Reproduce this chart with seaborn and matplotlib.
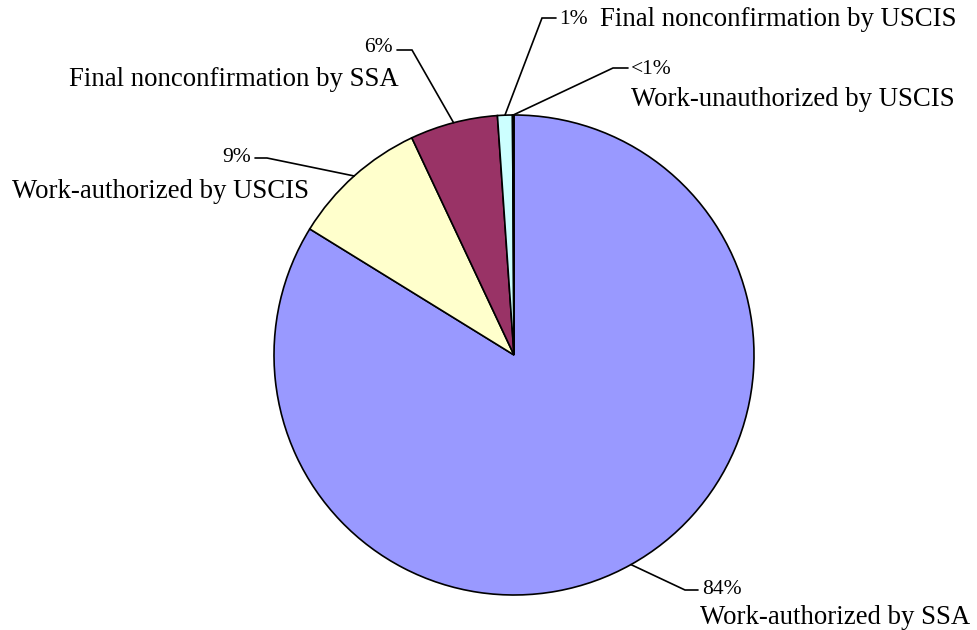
import numpy as np
import seaborn as sns
import matplotlib
matplotlib.use('Agg')
import matplotlib.pyplot as plt

# data (clockwise from 12 o'clock)
categories = ['Work-authorized by SSA', 'Work-authorized by USCIS',
              'Final nonconfirmation by SSA', 'Final nonconfirmation by USCIS',
              'Work-unauthorized by USCIS']
shares = [83.8, 9.2, 5.9, 1.0, 0.1]
pct_labels = ['84%', '9%', '6%', '1%', '<1%']
colors = ['#9999FF', '#FFFFCC', '#993366', '#CCFFFF', '#660066']

sns.set_theme(style='white')
plt.rcParams['font.family'] = ['Liberation Serif', 'DejaVu Serif']
plt.rcParams['text.color'] = 'black'

W, H = 977, 630
fig = plt.figure(figsize=(W / 100, H / 100), dpi=100)
ax = fig.add_axes([0, 0, 1, 1])
ax.set_aspect('equal')
ax.axis('off')

# pie placed in pixel space (y flipped so we can read positions off the image)
cx, cy, r = 514, 355, 240
wedges, _ = ax.pie(shares, colors=colors, startangle=90, counterclock=False,
                   center=(cx, H - cy), radius=r,
                   wedgeprops=dict(edgecolor='black', linewidth=1.2))
ax.set_xlim(0, W)
ax.set_ylim(0, H)

# leader line elbow/end, pct text pos + align, name text pos + align (image coords)
leaders = [
    ((685, 590), (698, 590), (702, 590, 'left'), (700, 617, 'left')),
    ((267, 158), (255, 158), (251, 158, 'right'), (161, 191, 'center')),
    ((412, 50), (397, 50), (393, 48, 'right'), (234, 80, 'center')),
    ((542, 18), (556, 18), (559, 19, 'left'), (600, 20, 'left')),
    ((613, 68), (628, 68), (631, 69, 'left'), (793, 100, 'center')),
]

for w, pct, name, (elbow, end, ptxt, ntxt) in zip(wedges, pct_labels, categories, leaders):
    mid = np.deg2rad((w.theta1 + w.theta2) / 2)
    sx = cx + r * np.cos(mid)
    sy = (H - cy) + r * np.sin(mid)
    ax.plot([sx, elbow[0], end[0]], [sy, H - elbow[1], H - end[1]],
            color='black', lw=1.2, solid_joinstyle='miter')
    ax.text(ptxt[0], H - ptxt[1], pct, ha=ptxt[2], va='center', fontsize=15.5)
    ax.text(ntxt[0], H - ntxt[1], name, ha=ntxt[2], va='center', fontsize=19.3)

fig.savefig('out.png', dpi=100)
